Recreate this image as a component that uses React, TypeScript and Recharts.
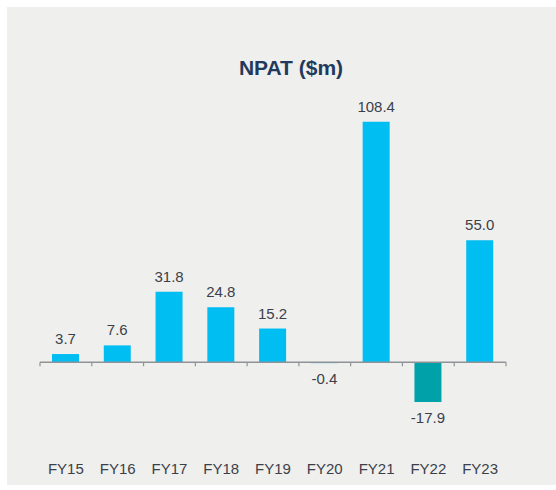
import { BarChart, Bar, XAxis, YAxis, Cell, LabelList, ReferenceLine } from 'recharts';

const years = ['FY15', 'FY16', 'FY17', 'FY18', 'FY19', 'FY20', 'FY21', 'FY22', 'FY23'];
const npat = [3.7, 7.6, 31.8, 24.8, 15.2, -0.4, 108.4, -17.9, 55.0];
const highlightYear = 'FY22';

const data = years.map((year, i) => ({ year, npat: npat[i] }));

const FONT = '"Liberation Sans", Arial, sans-serif';
const TEXT = '#3b3f4a';

// zero line with little tick marks between the categories
function ZeroAxis(props: any) {
  const { x1, y1, x2 } = props;
  const step = (x2 - x1) / years.length;
  const ticks = [];
  for (let i = 0; i <= years.length; i++) {
    const x = x1 + step * i;
    ticks.push(<line key={i} x1={x} y1={y1} x2={x} y2={y1 + 4} stroke="#8f9296" strokeWidth={1.2} />);
  }
  return (
    <g>
      <line x1={x1} y1={y1} x2={x2} y2={y1} stroke="#8f9296" strokeWidth={1.5} />
      {ticks}
    </g>
  );
}

export default function App() {
  return (
    <div style={{ position: 'absolute', left: 0, top: 0, width: 556, height: 490, background: '#fff' }}>
      <div style={{ position: 'absolute', left: 7, top: 7, width: 549, height: 478, background: '#efefed' }} />
      <div
        style={{
          position: 'absolute',
          left: 191,
          top: 56,
          width: 200,
          textAlign: 'center',
          fontFamily: FONT,
          fontWeight: 'bold',
          fontSize: 21,
          color: '#1f3a5c',
        }}
      >
        NPAT ($m)
      </div>
      <div style={{ position: 'absolute', left: 0, top: 0 }}>
        <BarChart width={556} height={490} data={data} margin={{ top: 96, right: 50, bottom: 9, left: 40 }}>
          <YAxis hide domain={[-40, 120]} />
          <XAxis
            dataKey="year"
            axisLine={false}
            tickLine={false}
            tickMargin={6}
            interval={0}
            tick={{ fill: TEXT, fontSize: 15, fontFamily: FONT }}
          />
          <Bar dataKey="npat" barSize={27} isAnimationActive={false}>
            {data.map((d) => (
              <Cell key={d.year} fill={d.year === highlightYear ? '#00a1a9' : '#00bdf2'} />
            ))}
            <LabelList
              dataKey="npat"
              position="top"
              offset={10}
              formatter={(v: any) => Number(v).toFixed(1)}
              style={{ fill: TEXT, fontSize: 15, fontFamily: FONT }}
            />
          </Bar>
          <ReferenceLine y={0} shape={ZeroAxis} />
        </BarChart>
      </div>
    </div>
  );
}
